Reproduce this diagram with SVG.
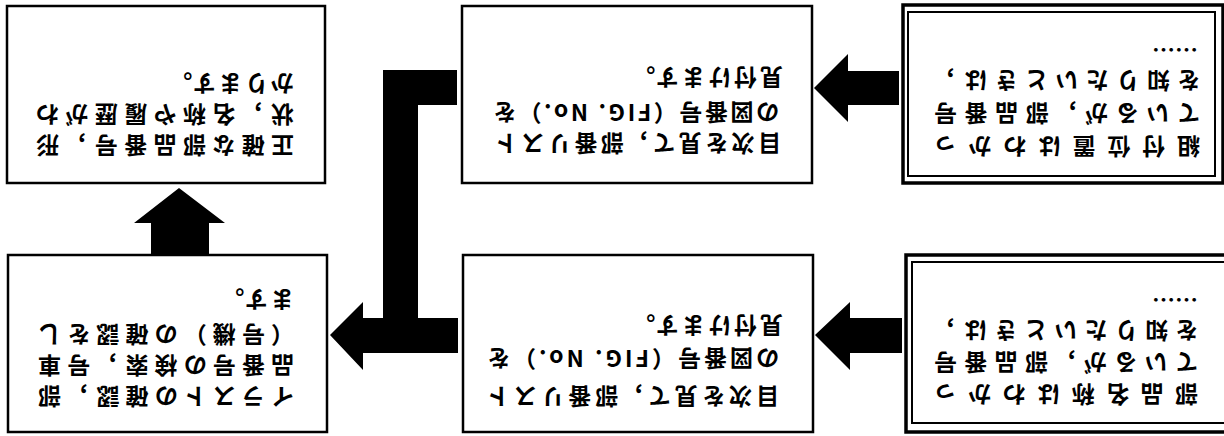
<svg xmlns="http://www.w3.org/2000/svg" width="1224" height="436" viewBox="0 0 1224 436">
<style>
.box{fill:#fff;stroke:#000;stroke-width:2.5}
.outer{fill:#fff;stroke:#000;stroke-width:3.5}
.inner{fill:none;stroke:#000;stroke-width:2}
.arrow{fill:#000;stroke:none}
text{font-family:"Noto Sans CJK JP","Noto Sans CJK SC",sans-serif;font-weight:700;font-size:23px;fill:#000}
.nat{letter-spacing:3px}
</style>
<rect x="0" y="0" width="1224" height="436" fill="#fff"/>
<g id="connectors">
<polygon class="arrow" points="899,71 848,71 848,54 814,88 848,122 848,105 899,105"/>
<polygon class="arrow" points="902,318 850,318 850,302 815,335 850,370 850,353 902,353"/>
<polygon class="arrow" points="151,255 151,223 134,223 179,188 225,223 209,223 209,255"/>
<polygon class="arrow" points="457,70 383,70 383,318 363,318 363,302 330,335 363,370 363,353 458,353 458,318 418,318 418,105 457,105"/>
</g>
<g id="box-a">
<rect class="box" x="7" y="6" width="318" height="177"/>
<g transform="rotate(180 612 218)">
<text x="930" y="299" textLength="258" lengthAdjust="spacing">正確な部品番号，形</text>
<text x="930" y="330" textLength="258" lengthAdjust="spacing">状，名称や履歴がわ</text>
<text class="nat" x="930" y="361">かります。</text>
</g>
</g>
<g id="box-b">
<rect class="box" x="8" y="255" width="319" height="177"/>
<g transform="rotate(180 612 218)">
<text x="930" y="48" textLength="256" lengthAdjust="spacing">イラストの確認，部</text>
<text x="930" y="79" textLength="256" lengthAdjust="spacing">品番号の検索，号車</text>
<text x="930" y="110" textLength="256" lengthAdjust="spacing">（号機）の確認をし</text>
<text class="nat" x="930" y="145">ます。</text>
</g>
</g>
<g id="box-c">
<rect class="box" x="462" y="6" width="350" height="177"/>
<g transform="rotate(180 612 218)">
<text x="443" y="301" textLength="286" lengthAdjust="spacing">目次を見て，部番リスト</text>
<text x="445" y="332" textLength="286" lengthAdjust="spacing">の図番号（FIG. No.）を</text>
<text class="nat" x="441" y="367">見付けます。</text>
</g>
</g>
<g id="box-d">
<rect class="box" x="463" y="255" width="350" height="177"/>
<g transform="rotate(180 612 218)">
<text x="445" y="48" textLength="292" lengthAdjust="spacing">目次を見て，部番リスト</text>
<text x="445" y="86" textLength="292" lengthAdjust="spacing">の図番号（FIG. No.）を</text>
<text class="nat" x="441" y="119">見付けます。</text>
</g>
</g>
<g id="box-e">
<rect class="outer" x="903" y="5" width="320" height="178"/>
<rect class="inner" x="908" y="12" width="307" height="164"/>
<g transform="rotate(180 612 218)">
<text x="24" y="298" textLength="266" lengthAdjust="spacing">組付位置はわかっ</text>
<text x="24" y="331" textLength="266" lengthAdjust="spacing">ているが，部品番号</text>
<text x="24" y="364" textLength="266" lengthAdjust="spacing">を知りたいときは，</text>
<text x="26" y="395">……</text>
</g>
</g>
<g id="box-f">
<rect class="outer" x="906" y="255" width="330" height="177"/>
<rect class="inner" x="912" y="262" width="316" height="161"/>
<g transform="rotate(180 612 218)">
<text x="26" y="50" textLength="264" lengthAdjust="spacing">部品名称はわかっ</text>
<text x="26" y="82" textLength="264" lengthAdjust="spacing">ているが，部品番号</text>
<text x="26" y="114" textLength="264" lengthAdjust="spacing">を知りたいときは，</text>
<text x="26" y="145">……</text>
</g>
</g>
</svg>
